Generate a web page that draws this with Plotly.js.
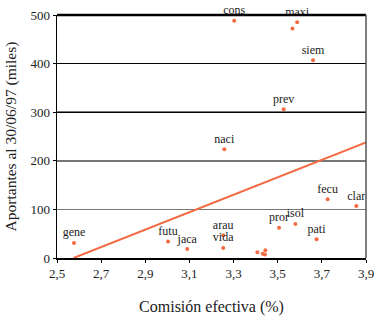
<!DOCTYPE html>
<html>
<head>
<meta charset="utf-8">
<script src="https://cdn.plot.ly/plotly-3.0.1.min.js"></script>
<style>html,body{margin:0;padding:0;background:#fff;}#chart{width:374px;height:316px;}</style>
</head>
<body>
<div id="chart"></div>
<script>
const names = ["cons","maxi","","siem","prev","naci","gene","futu","jaca","arau","vida","","","","","pror","isol","pati","fecu","clar"];
const comision = [3.303,3.588,3.567,3.66,3.527,3.258,2.577,3.003,3.09,3.253,3.253,3.408,3.432,3.444,3.442,3.506,3.58,3.676,3.726,3.856];
const aportantes = [488,485,472,407,306,224,31,34,18.5,47,20.6,11.7,9,16,7,62,70,38.5,121,107];
const trendX = [2.575, 3.9];
const trendY = [0, 238];
const xTicks = [2.5,2.7,2.9,3.1,3.3,3.5,3.7,3.9];
const xTickText = ["2,5","2,7","2,9","3,1","3,3","3,5","3,7","3,9"];
const yTicks = [0,100,200,300,400,500];

const serif = "Liberation Serif, DejaVu Serif, serif";
const orange = "#f26b43";

const data = [
  {x: trendX, y: trendY, mode: "lines", type: "scatter", line: {color: orange, width: 2}, hoverinfo: "skip"},
  {x: comision, y: aportantes, text: names, mode: "markers+text", type: "scatter",
   textposition: "top center", cliponaxis: false,
   textfont: {family: serif, size: 12, color: "#222"},
   marker: {color: orange, size: 4}},
  {x: [2.5], y: [0], xaxis: "x", yaxis: "y2", mode: "markers", marker: {opacity: 0}, hoverinfo: "skip"}
];

const layout = {
  width: 374, height: 316,
  margin: {l: 57, r: 8, t: 15, b: 58},
  paper_bgcolor: "#fff", plot_bgcolor: "#fff",
  showlegend: false,
  font: {family: serif, color: "#222"},
  xaxis: {
    range: [2.5, 3.9], tickvals: xTicks, ticktext: xTickText,
    showgrid: false, zeroline: false,
    showline: true, linecolor: "#000", linewidth: 1.5, mirror: false,
    ticks: "outside", ticklen: 3, tickcolor: "#000",
    ticklabeloverflow: "allow",
    tickfont: {family: serif, size: 13, color: "#222"},
    title: {text: "Comisión efectiva (%)", font: {family: serif, size: 16, color: "#222"}, standoff: 23}
  },
  yaxis: {
    range: [0, 500], tickvals: yTicks,
    showgrid: true, gridcolor: "#777", gridwidth: 1.5, zeroline: false,
    showline: true, linecolor: "#000", linewidth: 1.5, mirror: false,
    ticks: "outside", ticklen: 3, tickcolor: "#000",
    tickfont: {family: serif, size: 13, color: "#222"},
    title: {text: "Aportantes al 30/06/97 (miles)", font: {family: serif, size: 15.5, color: "#222"}, standoff: 10}
  },
  yaxis2: {
    range: [0, 500], overlaying: "y", tickvals: [300, 400, 500],
    showticklabels: false, showgrid: true, gridcolor: "#000", gridwidth: 1.2,
    zeroline: false, showline: false, ticks: ""
  },
  shapes: [
    {type: "line", xref: "paper", yref: "paper", x0: 0, x1: 1, y0: 1, y1: 1, line: {color: "#000", width: 2.5}},
    {type: "line", xref: "paper", yref: "paper", x0: 1, x1: 1, y0: 0, y1: 1, line: {color: "#555", width: 1.5}}
  ]
};

Plotly.newPlot("chart", data, layout, {displayModeBar: false, staticPlot: true});
</script>
</body>
</html>
